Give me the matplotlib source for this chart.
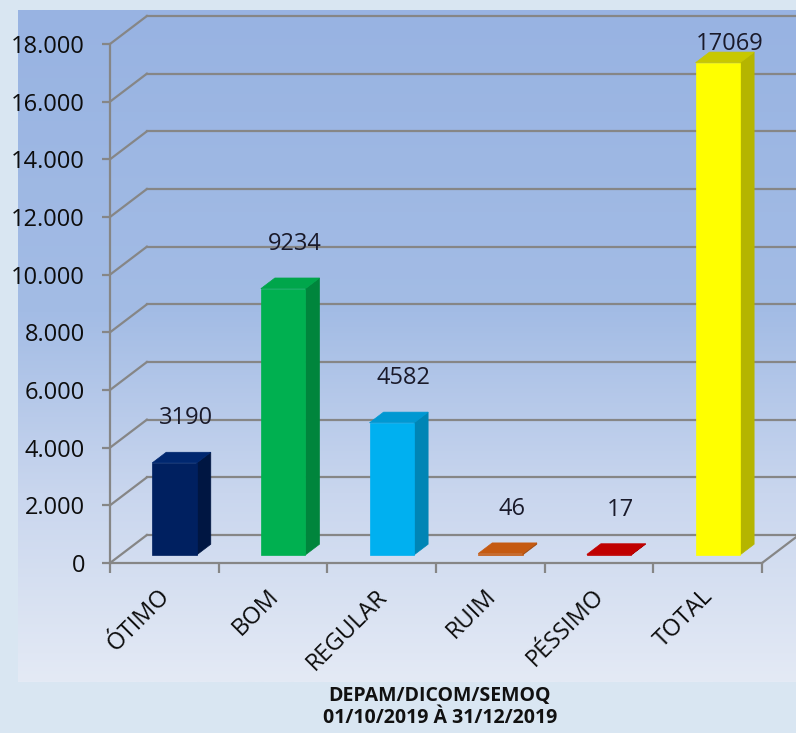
import numpy as np
import matplotlib.pyplot as plt
import matplotlib.transforms as mtransforms
from matplotlib.patches import Polygon
from matplotlib.colors import LinearSegmentedColormap

plt.rcParams['font.family'] = ['Open Sans', 'DejaVu Sans']

# data
categories = ["ÓTIMO", "BOM", "REGULAR", "RUIM", "PÉSSIMO", "TOTAL"]
values = [3190, 9234, 4582, 46, 17, 17069]
front_colors = ["#002060", "#00B050", "#00B0F0", "#C55A11", "#C00000", "#FFFF00"]
side_colors = ["#001642", "#00853C", "#0085B5", "#A04A0E", "#A00000", "#B5B500"]
top_colors = ["#00276F", "#00A64B", "#0098D2", "#C55A11", "#C00000", "#C8C800"]
y_ticks = [0, 2000, 4000, 6000, 8000, 10000, 12000, 14000, 16000, 18000]
y_tick_labels = ["0", "2.000", "4.000", "6.000", "8.000", "10.000",
                 "12.000", "14.000", "16.000", "18.000"]
footer = ["DEPAM/DICOM/SEMOQ", "01/10/2019 À 31/12/2019"]

W, H = 796, 733
fig = plt.figure(figsize=(W / 100, H / 100), dpi=100, facecolor="#d9e6f2")

# gradient panel behind the chart
bg = fig.add_axes([18 / W, (H - 682) / H, (W - 18) / W, (682 - 10) / H])
grad_cmap = LinearSegmentedColormap.from_list(
    "panel", [(0.0, "#98b3e2"), (0.45, "#a3bce5"), (0.72, "#c9d6ee"), (1.0, "#e4eaf5")])
bg.imshow(np.linspace(0, 1, 256).reshape(-1, 1), aspect="auto", cmap=grad_cmap,
          extent=[0, 1, 0, 1])
bg.axis("off")

# main axes: x in category units, y in value units
ax = fig.add_axes([110 / W, (H - 563) / H, 652 / W, 519 / H])
ax.set_xlim(0, len(categories))
ax.set_ylim(0, 18000)
ax.patch.set_visible(False)

grid_col = "#868686"
DX = 37 / 109               # depth shift in category units
DY = 28 / 519 * 18000       # depth shift in value units
n = len(categories)

# walls and gridlines
for v in y_ticks:
    ax.plot([0, DX], [v, v + DY], color=grid_col, lw=1.6, clip_on=False, zorder=1)
    ax.plot([DX, n + DX + 0.2], [v + DY, v + DY], color=grid_col, lw=1.6,
            clip_on=False, zorder=1)
ax.plot([n, n + DX], [0, DY], color=grid_col, lw=1.6, clip_on=False, zorder=1)

for s in ["top", "right"]:
    ax.spines[s].set_visible(False)
for s in ["left", "bottom"]:
    ax.spines[s].set_color(grid_col)
    ax.spines[s].set_linewidth(1.6)

ax.set_yticks(y_ticks)
ax.set_yticklabels(y_tick_labels, fontsize=17, color="#0d0d0d")
ax.set_xticks(range(n + 1))
ax.set_xticklabels([])
ax.tick_params(axis="y", length=6, width=1.6, color=grid_col, pad=12)
ax.tick_params(axis="x", length=7, width=1.6, color=grid_col)

# 3D-style bars
Z0, Z1 = 0.29, 0.67
OFF, BW = 0.29, 0.41
for i, (v, fc, sc, tc) in enumerate(zip(values, front_colors, side_colors, top_colors)):
    x0 = i + OFF + Z0 * DX
    x1 = x0 + BW
    y0 = Z0 * DY
    ddx = (Z1 - Z0) * DX
    ddy = (Z1 - Z0) * DY
    front = [(x0, y0), (x1, y0), (x1, y0 + v), (x0, y0 + v)]
    side = [(x1, y0), (x1 + ddx, y0 + ddy), (x1 + ddx, y0 + ddy + v), (x1, y0 + v)]
    top = [(x0, y0 + v), (x1, y0 + v), (x1 + ddx, y0 + v + ddy), (x0 + ddx, y0 + v + ddy)]
    for pts, col in [(side, sc), (front, fc), (top, tc)]:
        ax.add_patch(Polygon(pts, closed=True, facecolor=col, edgecolor=col,
                             lw=0.5, clip_on=False, zorder=3))
    ax.text(i + 0.7, min(v + 1830, 18000), str(v), ha="center", va="center",
            fontsize=17, color="#1a1a2a", zorder=4)

# rotated category labels
lab_tr = mtransforms.offset_copy(ax.get_xaxis_transform(), fig=fig, x=2, y=-30, units="dots")
for i, c in enumerate(categories):
    ax.text(i + 0.5, 0, c, transform=lab_tr, rotation=45, rotation_mode="anchor",
            ha="right", va="center", fontsize=17, color="#0d0d0d")

fig.text(440 / W, 1 - 696 / H, footer[0], ha="center", va="center",
         fontsize=14, fontweight="bold", color="#111111")
fig.text(440 / W, 1 - 718 / H, footer[1], ha="center", va="center",
         fontsize=14, fontweight="bold", color="#111111")

fig.savefig("out.png", dpi=100, facecolor=fig.get_facecolor())
